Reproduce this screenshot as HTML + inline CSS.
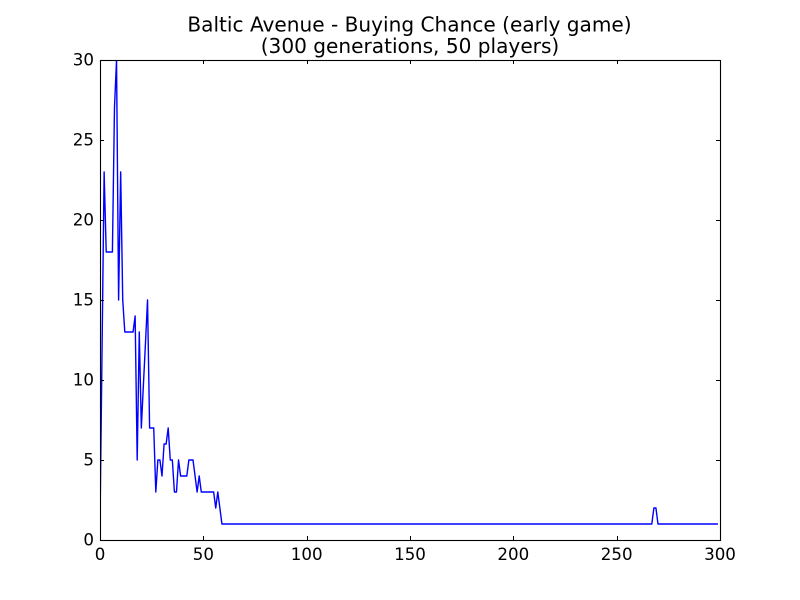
<!DOCTYPE html>
<html lang="en">
<head>
<meta charset="utf-8">
<title>Baltic Avenue - Buying Chance (early game)</title>
<style>
html,body{margin:0;padding:0;background:#fff;}
body{width:800px;height:600px;overflow:hidden;}
svg{display:block;}
text{font-family:"DejaVu Sans",sans-serif;fill:#000;}
.tick-label{font-size:16.67px;}
.title-line{font-size:20.1px;text-anchor:middle;}
</style>
</head>
<body>
<svg id="chart" xmlns="http://www.w3.org/2000/svg" width="800" height="600" viewBox="0 0 800 600">
  <rect x="0" y="0" width="800" height="600" fill="#fff"/>
  <rect x="100" y="60" width="620" height="480" fill="#fff"/>
  <text class="title-line" x="409.5" y="31.5">Baltic Avenue - Buying Chance (early game)</text>
  <text class="title-line" x="410" y="53">(300 generations, 50 players)</text>
  <clipPath id="plot-clip"><rect x="100" y="60" width="620" height="480"/></clipPath>
  <polyline id="series-line" fill="none" stroke="#0000ff" stroke-width="1.4" stroke-linejoin="round" clip-path="url(#plot-clip)"/>
  <g id="ticks"></g>
  <rect x="100.5" y="60.5" width="620" height="480" fill="none" stroke="#000" stroke-width="1.1"/>
</svg>
<script>
const xTicks = [0, 50, 100, 150, 200, 250, 300];
const yTicks = [0, 5, 10, 15, 20, 25, 30];
const generations = [];
const buyingChance = [
  1, 12, 23, 18, 18, 18, 18, 27, 30, 15,
  23, 15, 13, 13, 13, 13, 13, 14, 5, 13,
  7, 9.7, 12.3, 15, 7, 7, 7, 3, 5, 5,
  4, 6, 6, 7, 5, 5, 3, 3, 5, 4,
  4, 4, 4, 5, 5, 5, 4, 3, 4, 3,
  3, 3, 3, 3, 3, 3, 2, 3, 2,
  1, 1, 1, 1, 1, 1, 1, 1, 1, 1, 1, 1, 1, 1, 1, 1, 1, 1, 1, 1,
  1, 1, 1, 1, 1, 1, 1, 1, 1, 1, 1, 1, 1, 1, 1, 1, 1, 1, 1, 1,
  1, 1, 1, 1, 1, 1, 1, 1, 1, 1, 1, 1, 1, 1, 1, 1, 1, 1, 1, 1,
  1, 1, 1, 1, 1, 1, 1, 1, 1, 1, 1, 1, 1, 1, 1, 1, 1, 1, 1, 1,
  1, 1, 1, 1, 1, 1, 1, 1, 1, 1, 1, 1, 1, 1, 1, 1, 1, 1, 1, 1,
  1, 1, 1, 1, 1, 1, 1, 1, 1, 1, 1, 1, 1, 1, 1, 1, 1, 1, 1, 1,
  1, 1, 1, 1, 1, 1, 1, 1, 1, 1, 1, 1, 1, 1, 1, 1, 1, 1, 1, 1,
  1, 1, 1, 1, 1, 1, 1, 1, 1, 1, 1, 1, 1, 1, 1, 1, 1, 1, 1, 1,
  1, 1, 1, 1, 1, 1, 1, 1, 1, 1, 1, 1, 1, 1, 1, 1, 1, 1, 1, 1,
  1, 1, 1, 1, 1, 1, 1, 1, 1, 1, 1, 1, 1, 1, 1, 1, 1, 1, 1, 1,
  1, 1, 1, 1, 1, 1, 1, 1, 1,
  2, 2,
  1, 1, 1, 1, 1, 1, 1, 1, 1, 1, 1, 1, 1, 1, 1,
  1, 1, 1, 1, 1, 1, 1, 1, 1, 1, 1, 1, 1, 1, 1
];
for (let i = 0; i < buyingChance.length; i++) generations.push(i);

const SVG_NS = 'http://www.w3.org/2000/svg';
const xDomainMax = xTicks[xTicks.length - 1];
const yDomainMax = yTicks[yTicks.length - 1];
const xScale = function (v) { return 100 + (v / xDomainMax) * 620; };
const yScale = function (v) { return 540 - (v / yDomainMax) * 480; };

const points = generations.map(function (g, i) {
  return xScale(g).toFixed(2) + ',' + yScale(buyingChance[i]).toFixed(2);
});
document.getElementById('series-line').setAttribute('points', points.join(' '));

const tickGroup = document.getElementById('ticks');
const addTick = function (x1, y1, x2, y2) {
  const t = document.createElementNS(SVG_NS, 'line');
  t.setAttribute('x1', x1);
  t.setAttribute('y1', y1);
  t.setAttribute('x2', x2);
  t.setAttribute('y2', y2);
  t.setAttribute('stroke', '#000');
  t.setAttribute('stroke-width', '1');
  
  
  tickGroup.appendChild(t);
};

xTicks.forEach(function (v) {
  const px = Math.round(xScale(v)) + 0.5;
  addTick(px, 540, px, 536);
  addTick(px, 60, px, 64);
  const label = document.createElementNS(SVG_NS, 'text');
  label.setAttribute('class', 'tick-label');
  label.setAttribute('x', xScale(v));
  label.setAttribute('y', 560);
  label.setAttribute('text-anchor', 'middle');
  
  
  label.textContent = String(v);
  tickGroup.appendChild(label);
});

yTicks.forEach(function (v) {
  const py = Math.round(yScale(v)) + 0.5;
  addTick(100, py, 104, py);
  addTick(720, py, 716, py);
  const label = document.createElementNS(SVG_NS, 'text');
  label.setAttribute('class', 'tick-label');
  label.setAttribute('x', 94);
  label.setAttribute('y', yScale(v) + 5.5);
  label.setAttribute('text-anchor', 'end');
  
  
  label.textContent = String(v);
  tickGroup.appendChild(label);
});
</script>
</body>
</html>
